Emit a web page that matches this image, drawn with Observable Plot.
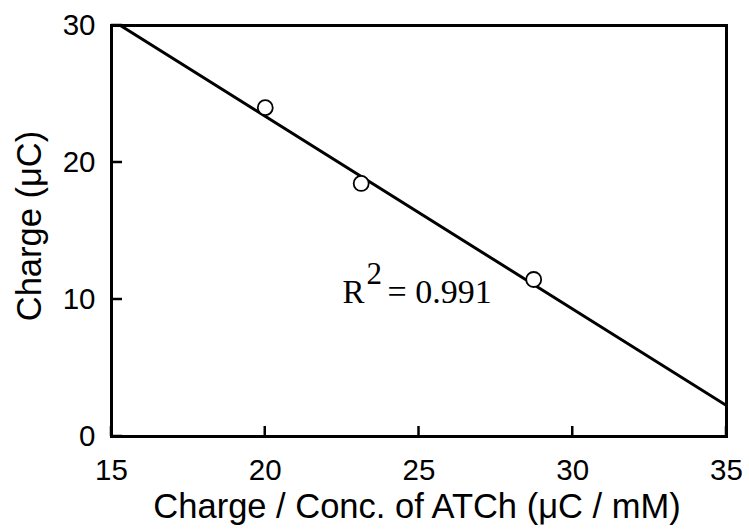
<!DOCTYPE html>
<html><head><meta charset="utf-8">
<script src="https://cdn.jsdelivr.net/npm/d3@7"></script>
<script src="https://cdn.jsdelivr.net/npm/@observablehq/plot@0.6"></script>
<style>body{margin:0;background:#fff}</style>
</head><body><div id="chart"></div>
<script>
const pointX = [20.0, 23.12, 28.73];
const pointY = [24.0, 18.47, 11.46];
const fitX = [15.29, 35];
const fitY = [30, 2.26];
const xTicks = [15, 20, 25, 30, 35];
const yTicks = [0, 10, 20, 30];
const xLabel = "Charge / Conc. of ATCh (μC / mM)";
const yLabel = "Charge (μC)";
const r2Parts = ["R", "2", "= 0.991"];

const points = pointX.map((x, i) => ({x, y: pointY[i]}));
const fit = fitX.map((x, i) => ({x, y: fitY[i]}));
const sans = "'Liberation Sans', Arial, sans-serif";
const serif = "'Liberation Serif', 'Times New Roman', serif";

const chart = Plot.plot({
  width: 749, height: 529,
  marginLeft: 111, marginRight: 23, marginTop: 25, marginBottom: 93,
  style: {fontFamily: sans, background: "white", color: "black"},
  x: {domain: [15, 35]},
  y: {domain: [0, 30]},
  marks: [
    Plot.line(fit, {x: "x", y: "y", stroke: "black", strokeWidth: 3, clip: true}),
    Plot.dot(points, {x: "x", y: "y", r: 7.5, stroke: "black", strokeWidth: 1.8, fill: "white"}),
    Plot.axisX(xTicks, {tickSize: 0, tickPadding: 23, fontSize: 29.5, label: null}),
    Plot.axisY(yTicks, {tickSize: 0, tickPadding: 16, fontSize: 29.5, label: null}),
    Plot.frame({stroke: "black", strokeWidth: 3}),
    Plot.text([xLabel], {text: d => d, frameAnchor: "bottom", dx: -2, dy: 81, textAnchor: "middle", lineAnchor: "bottom", fontSize: 34.5}),
    Plot.text([yLabel], {text: d => d, frameAnchor: "left", dx: -71, dy: -5, rotate: -90, textAnchor: "middle", lineAnchor: "bottom", fontSize: 34.5}),
    Plot.text([r2Parts[0]], {text: d => d, frameAnchor: "top-left", dx: 231, dy: 277, textAnchor: "start", lineAnchor: "bottom", fontSize: 33, fontFamily: serif}),
    Plot.text([r2Parts[1]], {text: d => d, frameAnchor: "top-left", dx: 255, dy: 258, textAnchor: "start", lineAnchor: "bottom", fontSize: 31, fontFamily: serif}),
    Plot.text([r2Parts[2]], {text: d => d, frameAnchor: "top-left", dx: 276, dy: 277, textAnchor: "start", lineAnchor: "bottom", fontSize: 34, fontFamily: serif})
  ]
});

// Inward-pointing tick marks positioned through the plot's own scales
const sx = chart.scale("x"), sy = chart.scale("y");
const px = v => sx.range[0] + (v - sx.domain[0]) / (sx.domain[1] - sx.domain[0]) * (sx.range[1] - sx.range[0]);
const py = v => sy.range[0] + (v - sy.domain[0]) / (sy.domain[1] - sy.domain[0]) * (sy.range[1] - sy.range[0]);
const x0 = sx.range[0], y0 = sy.range[0];
const g = d3.select(chart).append("g").attr("stroke", "black").attr("stroke-width", 2.5);
g.selectAll("line.xt").data(xTicks).join("line").attr("class", "xt")
  .attr("x1", d => px(d)).attr("x2", d => px(d))
  .attr("y1", y0).attr("y2", y0 - 10);
g.selectAll("line.yt").data(yTicks).join("line").attr("class", "yt")
  .attr("y1", d => py(d)).attr("y2", d => py(d))
  .attr("x1", x0).attr("x2", x0 + 11);

document.getElementById("chart").append(chart);
</script>
</body></html>
